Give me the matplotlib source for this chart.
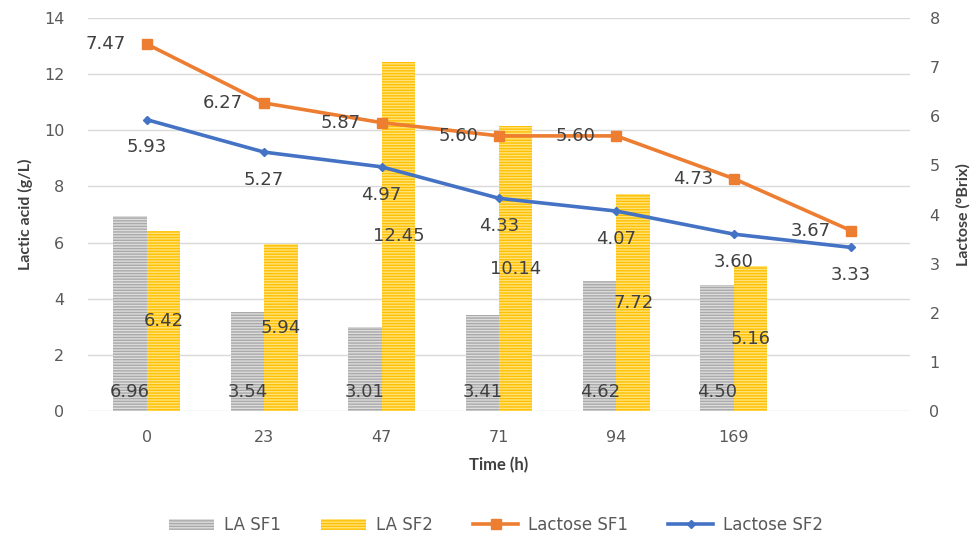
import matplotlib
matplotlib.use("Agg")
import matplotlib.pyplot as plt
import numpy as np
from matplotlib.patches import Patch
from matplotlib.lines import Line2D

# Data
time_labels = ["0", "23", "47", "71", "94", "169", ""]
la_sf1 = [6.96, 3.54, 3.01, 3.41, 4.62, 4.50]
la_sf2 = [6.42, 5.94, 12.45, 10.14, 7.72, 5.16]
lactose_sf1 = [7.47, 6.27, 5.87, 5.60, 5.60, 4.73, 3.67]
lactose_sf2 = [5.93, 5.27, 4.97, 4.33, 4.07, 3.60, 3.33]

plt.rcParams["font.family"] = ["DejaVu Sans"]
plt.rcParams["hatch.linewidth"] = 1.0

tick_color = "#595959"
label_color = "#404040"
grey_face, grey_hatch = "#dcdcdc", "#a9a9a9"
gold_face, gold_hatch = "#ffe27a", "#ffc000"
orange, blue = "#ed7d31", "#4472c4"

fig = plt.figure(figsize=(9.77, 5.37), dpi=100)
ax = fig.add_axes([0.0901, 0.2346, 0.8413, 0.7319])
ax2 = ax.twinx()

n = len(time_labels)
x_all = np.arange(n)
xb = np.arange(len(la_sf1))
bw = 0.285

ax.bar(xb - bw / 2, la_sf1, bw, color=grey_face, edgecolor=grey_hatch,
       hatch="------", linewidth=0, zorder=2)
ax.bar(xb + bw / 2, la_sf2, bw, color=gold_face, edgecolor=gold_hatch,
       hatch="------", linewidth=0, zorder=2)

ax.set_xlim(-0.5, n - 0.5)
ax.set_ylim(0, 14)
ax.set_yticks(np.arange(0, 15, 2))
ax.yaxis.grid(True, color="#d9d9d9", linewidth=1.0, zorder=0)
ax.set_axisbelow(True)
ax.set_xticks(x_all)
ax.set_xticklabels(time_labels)

ax2.set_ylim(0, 8)
ax2.set_yticks(np.arange(0, 9, 1))

for a in (ax, ax2):
    for s in a.spines.values():
        s.set_visible(False)
    a.tick_params(length=0, labelsize=11.5, labelcolor=tick_color)
ax.tick_params(axis="x", pad=14)
ax.tick_params(axis="y", pad=17)
ax2.tick_params(axis="y", pad=14)

ax2.plot(x_all, lactose_sf1, color=orange, linewidth=2.6, marker="s",
         markersize=7, zorder=4)
ax2.plot(x_all, lactose_sf2, color=blue, linewidth=2.6, marker="D",
         markersize=4.5, zorder=4)

lab_kw = dict(fontsize=13, color=label_color, zorder=6)

# Bar value labels
for xi, v in zip(xb, la_sf1):
    ax.annotate(f"{v:.2f}", (xi - bw / 2, 0), xytext=(0, 14),
                textcoords="offset points", ha="center", va="center", **lab_kw)
for xi, v in zip(xb, la_sf2):
    ax.annotate(f"{v:.2f}", (xi + bw / 2, v / 2), ha="center", va="center",
                **lab_kw)

# Line value labels
for xi, v in zip(x_all, lactose_sf1):
    ax2.annotate(f"{v:.2f}", (xi, v), xytext=(-15, 0), textcoords="offset points",
                 ha="right", va="center", **lab_kw)
for xi, v in zip(x_all, lactose_sf2):
    ax2.annotate(f"{v:.2f}", (xi, v), xytext=(0, -20), textcoords="offset points",
                 ha="center", va="center", **lab_kw)

title_kw = dict(fontweight="bold", color=label_color, family=["Lato", "DejaVu Sans"])
ax.set_xlabel("Time (h)", fontsize=12, labelpad=8, **title_kw)
ax.set_ylabel("Lactic acid (g/L)", fontsize=11.5, labelpad=8, **title_kw)
ax2.set_ylabel("Lactose (°Brix)", fontsize=11.5, labelpad=12, **title_kw)

handles = [
    Patch(facecolor=grey_face, edgecolor=grey_hatch, hatch="------", linewidth=0),
    Patch(facecolor=gold_face, edgecolor=gold_hatch, hatch="------", linewidth=0),
    Line2D([], [], color=orange, linewidth=2.6, marker="s", markersize=7),
    Line2D([], [], color=blue, linewidth=2.6, marker="D", markersize=4.5),
]
fig.legend(handles, ["LA SF1", "LA SF2", "Lactose SF1", "Lactose SF2"],
           loc="center", bbox_to_anchor=(0.508, 0.022), ncol=4, frameon=False,
           fontsize=12, labelcolor=tick_color, handlelength=2.7,
           handletextpad=0.6, columnspacing=2.4)

fig.savefig("out.png", dpi=100)
